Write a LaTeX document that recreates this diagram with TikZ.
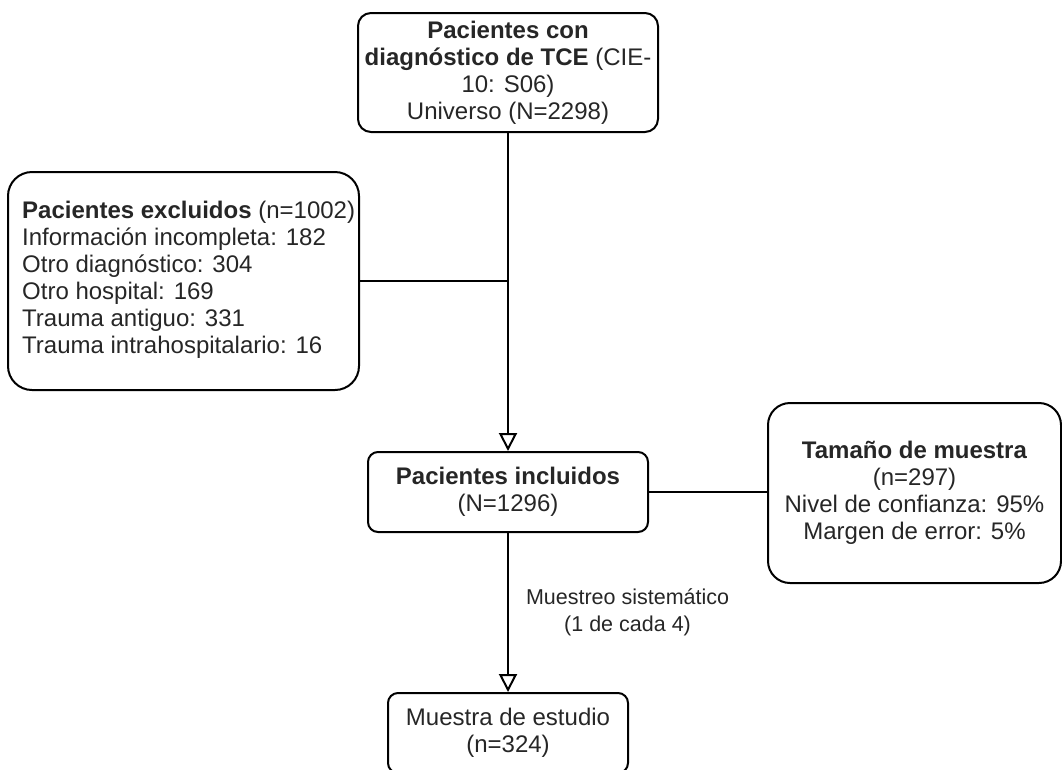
\documentclass[tikz,border=0pt]{standalone}
\usepackage{fontspec}
\setmainfont{Liberation Sans}
\usetikzlibrary{arrows.meta}
\tikzset{
  box/.style={draw=black, line width=2pt, rounded corners=#1, inner sep=0pt, align=center,
    text=black!85, font=\fontsize{24}{27}\selectfont},
  box/.default=10pt,
  conn/.style={draw=black, line width=2pt},
  openarrow/.style={conn, -{Triangle[open, length=18pt, width=18pt, line width=2pt]}},
  edgelabel/.style={text=black!85, font=\fontsize{21.5}{27}\selectfont, align=center, inner sep=0pt}
}
\begin{document}
\begin{tikzpicture}[x=1pt, y=-1pt]
\useasboundingbox (0,0) rectangle (1062,769);
% boxes
\node[box=13pt, minimum width=300pt, minimum height=119pt] (top) at (508,72.5)
  {\textbf{Pacientes con}\\\textbf{diagnóstico de TCE} (CIE-\\10: S06)\\Universo (N=2298)};
\node[box=24pt, minimum width=351pt, minimum height=218pt] (exc) at (183.5,281) {};
\node[anchor=west, inner sep=0pt, align=left, text=black!85, font=\fontsize{24}{27}\selectfont] (exctext) at (22,280)
  {\textbf{Pacientes excluidos} (n=1002)\\Información incompleta: 182\\Otro diagnóstico: 304\\Otro hospital: 169\\Trauma antiguo: 331\\Trauma intrahospitalario: 16};
\node[box=10pt, minimum width=280pt, minimum height=80pt] (inc) at (508,492)
  {\textbf{Pacientes incluidos}\\(N=1296)};
\node[box=22pt, minimum width=293pt, minimum height=180pt] (tam) at (914.5,493)
  {\textbf{Tamaño de muestra}\\(n=297)\\Nivel de confianza: 95\%\\Margen de error: 5\%};
\node[box=10pt, minimum width=240pt, minimum height=80pt] (smp) at (508,733)
  {Muestra de estudio\\(n=324)};
% connectors
\draw[openarrow] (top.south) -- (inc.north);
\draw[conn] (exc.east) -- (exc.east -| top.south);
\draw[conn] (inc.east) -- (tam.west |- inc.east);
\draw[openarrow] (inc.south) -- node[edgelabel, midway, anchor=west, xshift=17pt] (lbl)
  {Muestreo sistemático\\(1 de cada 4)} (smp.north);
\end{tikzpicture}
\end{document}
